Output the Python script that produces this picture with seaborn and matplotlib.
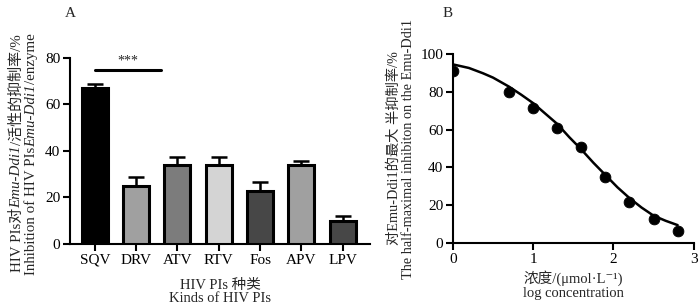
import numpy as np
import pandas as pd
import matplotlib
matplotlib.use("Agg")
import matplotlib.pyplot as plt
import seaborn as sns

# ---- data ----
drugs = ["SQV", "DRV", "ATV", "RTV", "Fos", "APV", "LPV"]
inhibition = [67, 25, 34, 34, 23, 34, 10]
inhibition_err = [2.0, 4.0, 3.5, 3.5, 3.5, 1.5, 2.0]
bar_colors = ["#000000", "#a0a0a0", "#7c7c7c", "#d4d4d4", "#474747", "#a0a0a0", "#474747"]

log_conc = [0.0, 0.7, 1.0, 1.3, 1.6, 1.9, 2.2, 2.5, 2.8]
half_inhib = [91, 80, 71.5, 61, 51, 35, 21.5, 12.5, 6.5]

curve_x = [0.0, 0.2, 0.375, 0.5, 0.7, 0.85, 1.0, 1.15, 1.3, 1.45, 1.6, 1.75, 1.9, 2.05, 2.2, 2.35, 2.5, 2.65, 2.8]
curve_y = [94.5, 92.6, 89.8, 87.5, 82.7, 78.5, 74, 68.5, 63, 56, 49.5, 42.5, 36, 29.5, 23.8, 18.8, 14.5, 11.8, 9.5]

sns.set_theme(style="ticks")
FAM = ["Liberation Serif", "Noto Sans CJK SC", "DejaVu Serif"]
plt.rcParams["font.family"] = FAM
plt.rcParams["axes.linewidth"] = 1.5
plt.rcParams["xtick.major.width"] = 1.5
plt.rcParams["ytick.major.width"] = 1.5
plt.rcParams["xtick.major.size"] = 5
plt.rcParams["ytick.major.size"] = 5
plt.rcParams["xtick.color"] = "black"
plt.rcParams["ytick.color"] = "black"
plt.rcParams["axes.edgecolor"] = "black"

fig = plt.figure(figsize=(7.0, 3.05), dpi=100)


def vertical_rich(fig, x, pieces, fontsize):
    arts = []
    for s, st in pieces:
        t = fig.text(x, 0.1, s, rotation=90, ha="center", va="bottom", fontsize=fontsize,
                     style=st, family=FAM)
        arts.append(t)
    return arts


def layout_rich(fig, arts, x, yc):
    fig.canvas.draw()
    r = fig.canvas.get_renderer()
    heights = [a.get_window_extent(r).height for a in arts]
    total = sum(heights)
    H = fig.bbox.height
    y = yc * H - total / 2
    for a, h in zip(arts, heights):
        a.set_position((x, y / H))
        y += h


# ---- Panel A ----
axA = fig.add_axes([0.1, 0.2, 0.4286, 0.61])
dfA = pd.DataFrame({"drug": drugs, "val": inhibition})
sns.barplot(data=dfA, x="drug", y="val", hue="drug", palette=bar_colors, legend=False,
            ax=axA, width=0.63, edgecolor="black", linewidth=2.2, saturation=1, zorder=3)
xs = np.arange(len(drugs))
axA.errorbar(xs, inhibition, yerr=[np.zeros(len(drugs)), inhibition_err], fmt="none",
             ecolor="black", elinewidth=1.8, capsize=6, capthick=1.8, zorder=2)
axA.set_xlim(-0.6, 6.66)
axA.set_ylim(0, 80)
axA.set_yticks([0, 20, 40, 60, 80])
axA.tick_params(labelsize=11, pad=2)
axA.set_xlabel("HIV PIs 种类\nKinds of HIV PIs", fontsize=10.5, labelpad=9, linespacing=0.95)
axA.set_ylabel("")
sns.despine(ax=axA)
axA.plot([0, 1.6], [75, 75], color="black", lw=2.2, zorder=4)
axA.text(0.8, 75.8, "***", ha="center", va="bottom", fontsize=10)
fig.text(0.1, 0.955, "A", fontsize=11, ha="center", va="center")

line1 = vertical_rich(fig, 0.0243, [("HIV PIs对", "normal"), ("Emu-Ddi1", "italic"),
                                     ("/活性的抑制率/%", "normal")], 10.8)
line2 = vertical_rich(fig, 0.0457, [("Inhibition of HIV PIs", "normal"), ("Emu-Ddi1", "italic"),
                                     ("/enzyme", "normal")], 10.8)

# ---- Panel B ----
axB = fig.add_axes([0.647, 0.203, 0.344, 0.62])
sns.lineplot(x=curve_x, y=curve_y, ax=axB, color="black", lw=1.8)
sns.scatterplot(x=log_conc, y=half_inhib, ax=axB, color="black", s=60, edgecolor="black", zorder=3)
axB.set_xlim(0, 3)
axB.set_ylim(0, 100)
axB.set_xticks([0, 1, 2, 3])
axB.set_yticks([0, 20, 40, 60, 80, 100])
axB.tick_params(labelsize=11, pad=2)
axB.set_xlabel("浓度/(μmol·L⁻¹)\nlog concentration", fontsize=10.5, labelpad=3, linespacing=1.1)
axB.set_ylabel("对Emu-Ddi1的最大 半抑制率/%\nThe half-maximal inhibiton on the Emu-Ddi1",
               fontsize=10.3, labelpad=4, linespacing=1.1)
sns.despine(ax=axB)
fig.text(0.64, 0.955, "B", fontsize=11, ha="center", va="center")

layout_rich(fig, line1, 0.0243, 0.497)
layout_rich(fig, line2, 0.0457, 0.495)

fig.savefig("out.png", dpi=100)
